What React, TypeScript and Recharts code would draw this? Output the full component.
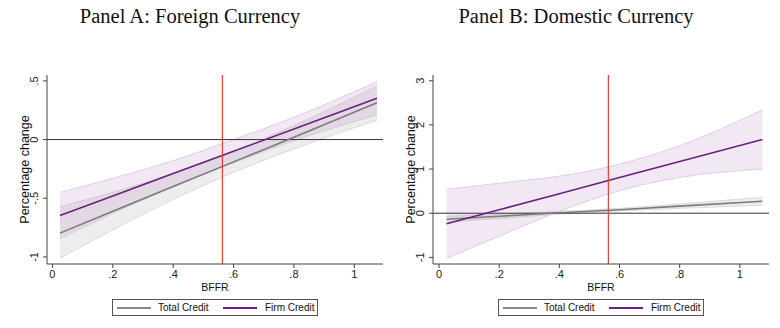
import { ComposedChart, Area, Line, XAxis, YAxis, ReferenceLine } from 'recharts';

const bffr = [0.025, 0.2, 0.4, 0.6, 0.8, 1.075];
const xTicks = [0, 0.2, 0.4, 0.6, 0.8, 1];
const cutoff = 0.563;

// Panel A: foreign currency
const totalA = [-0.797, -0.61, -0.4, -0.19, 0.02, 0.313];
const totalALo = [-1.01, -0.77, -0.51, -0.28, -0.08, 0.165];
const totalAHi = [-0.57, -0.45, -0.29, -0.1, 0.12, 0.455];
const firmA = [-0.647, -0.48, -0.29, -0.1, 0.09, 0.353];
const firmALo = [-0.845, -0.63, -0.4, -0.2, -0.01, 0.21];
const firmAHi = [-0.45, -0.33, -0.18, 0.0, 0.19, 0.494];
const yTicksA = [-1, -0.5, 0, 0.5];

// Panel B: domestic currency
const totalB = [-0.135, -0.07, 0.01, 0.08, 0.16, 0.27];
const totalBLo = [-0.2, -0.12, -0.02, 0.05, 0.11, 0.18];
const totalBHi = [-0.07, -0.02, 0.04, 0.11, 0.21, 0.36];
const firmB = [-0.24, 0.08, 0.44, 0.81, 1.17, 1.67];
const firmBLo = [-1.02, -0.52, 0.04, 0.51, 0.81, 1.0];
const firmBHi = [0.54, 0.68, 0.84, 1.11, 1.53, 2.34];
const yTicksB = [-1, 0, 1, 2, 3];

const GRAY = '#7b7b7b';
const PURPLE = '#6c1f80';
const SANS = '"Liberation Sans", Arial, sans-serif';

const fmt = (v: number) => (v === 0 ? '0' : String(v).replace(/^(-?)0\./, '$1.'));

function buildRows(total: number[], tLo: number[], tHi: number[], firm: number[], fLo: number[], fHi: number[]) {
  return bffr.map((x, i) => ({
    x,
    total: total[i],
    totalBand: [tLo[i], tHi[i]],
    firm: firm[i],
    firmBand: [fLo[i], fHi[i]],
  }));
}

function YTick(props: any) {
  const { x, y, payload } = props;
  const bx = x - 3;
  return (
    <text x={bx} y={y} transform={`rotate(-90, ${bx}, ${y})`} textAnchor="middle" fontSize={11} fontFamily={SANS} fill="#222">
      {fmt(payload.value)}
    </text>
  );
}

function YLabel(props: any) {
  const vb = props.viewBox || { x: 27, y: 75, height: 189 };
  const bx = vb.x + 1.5;
  const cy = vb.y + vb.height / 2;
  return (
    <text x={bx} y={cy} transform={`rotate(-90, ${bx}, ${cy})`} textAnchor="middle" fontSize={12.5} fontFamily={SANS} fill="#111">
      Percentage change
    </text>
  );
}

function Legend() {
  const line = (color: string, left: number) => (
    <div style={{ position: 'absolute', left, top: 7, width: 34, height: 1.5, background: color }} />
  );
  const label = (text: string, left: number) => (
    <span style={{ position: 'absolute', left, top: 1, fontSize: 10, lineHeight: '13px', fontFamily: SANS, color: '#111', whiteSpace: 'nowrap' }}>{text}</span>
  );
  return (
    <div style={{ position: 'absolute', left: 112, top: 299, width: 206, height: 17, boxSizing: 'border-box', border: '1px solid #555', background: '#fff' }}>
      {line('#8a8a8a', 4)}
      {label('Total Credit', 45)}
      {line(PURPLE, 110)}
      {label('Firm Credit', 152)}
    </div>
  );
}

interface PanelProps {
  title: string;
  left: number;
  rows: ReturnType<typeof buildRows>;
  yDomain: [number, number];
  yTicks: number[];
  xDomain: [number, number];
}

function Panel({ title, left, rows, yDomain, yTicks, xDomain }: PanelProps) {
  return (
    <div style={{ position: 'absolute', left, top: 0, width: 390, height: 328 }}>
      <div
        style={{
          position: 'absolute', left: 40, top: 6, width: 300, textAlign: 'center',
          fontFamily: '"Liberation Serif", "Times New Roman", serif', fontSize: 20.5, lineHeight: '20px', color: '#111',
        }}
      >
        {title}
      </div>
      <ComposedChart width={390} height={328} data={rows} margin={{ top: 75, right: 7, bottom: 34, left: 27 }}>
        <XAxis
          type="number"
          dataKey="x"
          domain={xDomain}
          ticks={xTicks}
          tickFormatter={fmt}
          allowDataOverflow
          height={30}
          tickSize={4}
          stroke="#444"
          tick={{ fontSize: 11, fontFamily: SANS, fill: '#222' }}
          label={{ value: 'BFFR', position: 'insideBottom', offset: 3, fontSize: 10.5, fontFamily: SANS, fill: '#111' }}
        />
        <YAxis
          type="number"
          domain={yDomain}
          ticks={yTicks}
          allowDataOverflow
          width={20}
          tickSize={4}
          stroke="#444"
          tick={<YTick />}
          label={<YLabel />}
        />
        <Area type="monotone" dataKey="totalBand" fill="#9a9a9a" fillOpacity={0.18} stroke="#d4d4d4" strokeWidth={0.8} isAnimationActive={false} />
        <Area type="monotone" dataKey="firmBand" fill="#9b5fb0" fillOpacity={0.14} stroke="#d8c3e2" strokeWidth={0.8} isAnimationActive={false} />
        <ReferenceLine y={0} stroke="#333" strokeWidth={1} />
        <Line type="linear" dataKey="total" stroke={GRAY} strokeWidth={1.6} dot={false} isAnimationActive={false} />
        <Line type="linear" dataKey="firm" stroke={PURPLE} strokeWidth={1.6} dot={false} isAnimationActive={false} />
        <ReferenceLine x={cutoff} stroke="#ec4035" strokeWidth={1.2} />
      </ComposedChart>
      <Legend />
    </div>
  );
}

export default function App() {
  const rowsA = buildRows(totalA, totalALo, totalAHi, firmA, firmALo, firmAHi);
  const rowsB = buildRows(totalB, totalBLo, totalBHi, firmB, firmBLo, firmBHi);
  return (
    <div style={{ position: 'absolute', left: 0, top: 0, width: 780, height: 328, background: '#fff', overflow: 'hidden' }}>
      <Panel title="Panel A: Foreign Currency" left={0} rows={rowsA} yDomain={[-1.06, 0.55]} yTicks={yTicksA} xDomain={[-0.018, 1.095]} />
      <Panel title="Panel B: Domestic Currency" left={386} rows={rowsB} yDomain={[-1.15, 3.13]} yTicks={yTicksB} xDomain={[-0.02, 1.097]} />
    </div>
  );
}
